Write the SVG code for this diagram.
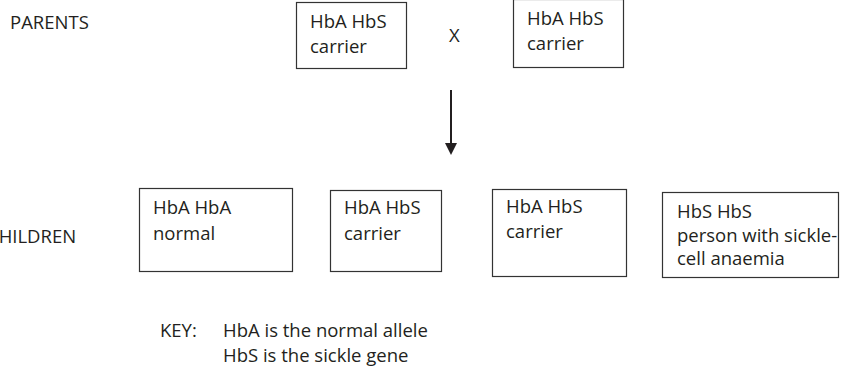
<svg xmlns="http://www.w3.org/2000/svg" width="846" height="366" viewBox="0 0 846 366">
<defs>
<style>
text{font-family:"Open Sans","Liberation Sans",sans-serif;font-size:18.5px;fill:#231f20}
.box{fill:#fff;stroke:#333;stroke-width:1.2}
.conn{stroke:#231f20;stroke-width:2;fill:none}
</style>
<marker id="ah" markerWidth="12" markerHeight="12" viewBox="0 0 12 12" refX="1" refY="6" orient="auto" markerUnits="userSpaceOnUse">
<path d="M0,0 L12,6 L0,12 Z" fill="#231f20"/>
</marker>
</defs>
<rect width="846" height="366" fill="#fff"/>
<g id="labels">
<text x="10" y="29">PARENTS</text>
<text x="-13" y="243">CHILDREN</text>
<text x="449" y="42">X</text>
<text x="160" y="337">KEY:</text>
<text x="223" y="337">HbA is the normal allele</text>
<text x="223" y="362">HbS is the sickle gene</text>
</g>
<g id="parent1">
<rect class="box" x="296.5" y="2.5" width="110" height="66"/>
<text x="310" y="28">HbA HbS</text>
<text x="310" y="53">carrier</text>
</g>
<g id="parent2">
<rect class="box" x="513.5" y="-0.5" width="110" height="68"/>
<text x="527" y="25">HbA HbS</text>
<text x="527" y="50">carrier</text>
</g>
<g id="connectors">
<line class="conn" x1="451" y1="90" x2="451" y2="144" marker-end="url(#ah)"/>
</g>
<g id="child1">
<rect class="box" x="139.5" y="188.5" width="153" height="83"/>
<text x="153" y="214">HbA HbA</text>
<text x="153" y="240">normal</text>
</g>
<g id="child2">
<rect class="box" x="330.5" y="190.5" width="111" height="81"/>
<text x="344" y="214">HbA HbS</text>
<text x="344" y="240">carrier</text>
</g>
<g id="child3">
<rect class="box" x="492.5" y="189.5" width="134" height="87"/>
<text x="506" y="213">HbA HbS</text>
<text x="506" y="238">carrier</text>
</g>
<g id="child4">
<rect class="box" x="662.5" y="192.5" width="176" height="85"/>
<text x="677" y="218">HbS HbS</text>
<text x="677" y="242">person with sickle-</text>
<text x="677" y="265">cell anaemia</text>
</g>
</svg>
